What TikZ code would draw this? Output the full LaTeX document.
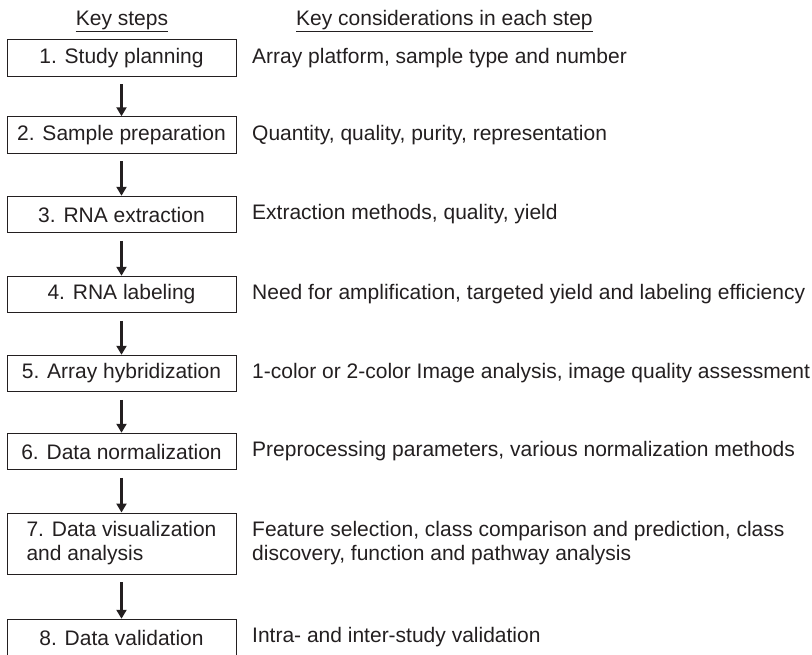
\documentclass[tikz,border=0pt]{standalone}
\usepackage{fontspec}
\setmainfont{Liberation Sans}
\usetikzlibrary{arrows.meta}
\definecolor{ink}{HTML}{231F20}
\begin{document}
\begin{tikzpicture}[x=1pt,y=-1pt,
  font=\fontsize{21}{24}\selectfont, text=ink,
  stepbox/.style={draw=ink, line width=1pt, minimum width=229pt, minimum height=36.5pt, inner sep=0pt, align=left},
  note/.style={anchor=west, inner sep=0pt, align=left},
  flow/.style={draw=ink, line width=3.3pt, -{Triangle[width=10pt,length=9pt]}},
  head/.style={anchor=base, inner sep=0pt},
  uline/.style={draw=ink, line width=0.9pt}
]
\useasboundingbox (0,0) rectangle (812,654);

\node[head] (hk) at (122,25) {Key steps};
\node[head, anchor=base west] (hc) at (296,25) {Key considerations in each step};
\coordinate (u1a) at (hk.west |- 0,31.5);
\coordinate (u1b) at (hk.east |- 0,31.5);
\coordinate (u2a) at (hc.west |- 0,31.5);
\coordinate (u2b) at (hc.east |- 0,31.5);
\draw[uline] (u1a) -- (u1b);
\draw[uline] (u2a) -- (u2b);

\node[stepbox] (s1) at (121.5,58) {1. Study planning};
\node[stepbox] (s2) at (121.5,135) {2. Sample preparation};
\node[stepbox] (s3) at (121.5,214.5) {3. RNA extraction};
\node[stepbox] (s4) at (121.5,294.5) {4. RNA labeling};
\node[stepbox] (s5) at (121.5,373.5) {5. Array hybridization};
\node[stepbox] (s6) at (121.5,451.5) {6. Data normalization};
\node[stepbox, minimum height=61pt] (s7) at (121.5,543.5) {7. Data visualization\\and analysis};
\node[stepbox] (s8) at (121.5,637.5) {8. Data validation};

\node[note] (c1) at (252,58) {Array platform, sample type and number};
\node[note] (c2) at (252,135) {Quantity, quality, purity, representation};
\node[note] (c3) at (252,214.5) {Extraction methods, quality, yield};
\node[note] (c4) at (252,294.5) {Need for amplification, targeted yield and labeling efficiency};
\node[note] (c5) at (252,373.5) {1-color or 2-color Image analysis, image quality assessment};
\node[note] (c6) at (252,451.5) {Preprocessing parameters, various normalization methods};
\node[note] (c7) at (252,543.5) {Feature selection, class comparison and prediction, class\\discovery, function and pathway analysis};
\node[note] (c8) at (252,637.5) {Intra- and inter-study validation};

\foreach \a/\b in {s1/s2,s2/s3,s3/s4,s4/s5,s5/s6,s6/s7,s7/s8}
  \draw[flow] ([yshift=-7.5pt]\a.south) -- (\b.north);
\end{tikzpicture}
\end{document}
